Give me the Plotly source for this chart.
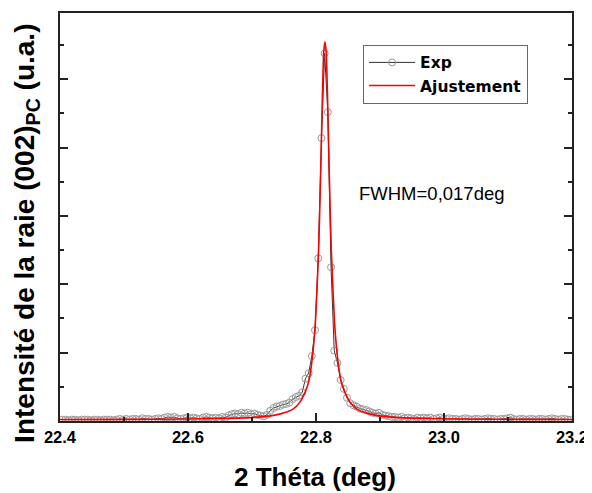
import numpy as np
import plotly.graph_objects as go

# Experimental scan: start angle, step, intensities (arbitrary units)
x_start = 22.4035
x_step = 0.005
exp_y = [
    0.02, 0.02, 0.01, 0.02, 0.02, 0.01, 0.02, 0.02, 0.02, 0.01,
    0.02, 0.02, 0.01, 0.02, 0.02, 0.02, 0.01, 0.02, 0.03, 0.02,
    0.03, 0.02, 0.03, 0.03, 0.02, 0.04, 0.03, 0.03, 0.02, 0.03,
    0.04, 0.03, 0.05, 0.06, 0.05, 0.06, 0.04, 0.03, 0.04, 0.05,
    0.04, 0.05, 0.04, 0.03, 0.05, 0.06, 0.05, 0.04, 0.05, 0.04,
    0.06, 0.05, 0.08, 0.10, 0.11, 0.10, 0.12, 0.11, 0.12, 0.10,
    0.11, 0.09, 0.08, 0.07, 0.09, 0.15, 0.19, 0.21, 0.22, 0.24,
    0.25, 0.27, 0.32, 0.35, 0.37, 0.42, 0.62, 0.70, 0.95, 1.33,
    2.38, 4.14, 5.38, 4.52, 2.25, 1.03, 0.85, 0.60, 0.47, 0.34,
    0.26, 0.23, 0.21, 0.18, 0.17, 0.16, 0.14, 0.12, 0.11, 0.12,
    0.09, 0.08, 0.07, 0.06, 0.06, 0.05, 0.06, 0.04, 0.05, 0.04,
    0.03, 0.05, 0.04, 0.05, 0.04, 0.05, 0.03, 0.04, 0.05, 0.03,
    0.03, 0.04, 0.03, 0.03, 0.02, 0.03, 0.04, 0.03, 0.02, 0.03,
    0.03, 0.02, 0.03, 0.04, 0.03, 0.03, 0.02, 0.03, 0.03, 0.04,
    0.05, 0.03, 0.02, 0.03, 0.03, 0.02, 0.03, 0.03, 0.02, 0.03,
    0.03, 0.02, 0.03, 0.04, 0.03, 0.02, 0.03, 0.03, 0.02, 0.02,
]
exp_x = [x_start + x_step * i for i in range(len(exp_y))]

# Fit curve
fit_x = [22.400, 22.500, 22.600, 22.654, 22.704, 22.734, 22.754, 22.764, 22.774,
         22.784, 22.789, 22.794, 22.799, 22.804, 22.807, 22.810, 22.812, 22.814,
         22.816, 22.818, 22.821, 22.824, 22.829, 22.834, 22.839, 22.844, 22.854,
         22.864, 22.874, 22.894, 22.924, 22.974, 23.024, 23.124, 23.200]
fit_y = [0.022, 0.024, 0.029, 0.036, 0.053, 0.082, 0.131, 0.175, 0.265,
         0.444, 0.593, 0.903, 1.434, 2.479, 3.509, 4.748, 5.383, 5.550,
         5.383, 4.748, 3.509, 2.479, 1.434, 0.903, 0.593, 0.444, 0.265,
         0.175, 0.131, 0.082, 0.053, 0.036, 0.029, 0.024, 0.023]

x_ticks = [22.4, 22.6, 22.8, 23.0, 23.2]
x_tick_text = ["22.4", "22.6", "22.8", "23.0", "23.2"]

FONT = "Liberation Sans, Arial, sans-serif"
LEG_FONT = "DejaVu Sans, Liberation Sans, sans-serif"

fig = go.Figure()
fig.add_trace(go.Scatter(
    x=exp_x, y=exp_y, mode="lines+markers", name="<b>Exp</b>",
    line=dict(color="#333333", width=1),
    marker=dict(symbol="circle-open", size=7, color="#999999", line=dict(width=1, color="#999999")),
))
fig.add_trace(go.Scatter(
    x=fit_x, y=fit_y, mode="lines", name="<b>Ajustement</b>",
    line=dict(color="#ff0000", width=1.6, shape="spline", smoothing=0.5),
))

# The page body adds an 8 px offset, so the figure is 8 px smaller and shifted
fig.update_layout(
    width=584, height=485,
    margin=dict(l=52, r=20, t=3, b=72),
    paper_bgcolor="white", plot_bgcolor="white",
    font=dict(family=FONT, color="black"),
    showlegend=True,
    legend=dict(
        x=0.592, y=0.922, xanchor="left", yanchor="top",
        bgcolor="white", bordercolor="#666666", borderwidth=1,
        font=dict(size=15.5, family=LEG_FONT, color="black"),
        itemwidth=46,
    ),
)
fig.update_xaxes(
    range=[22.4, 23.2], tickvals=x_ticks, ticktext=x_tick_text,
    ticks="inside", ticklen=8, tickwidth=1.5, tickcolor="#222",
    showline=True, linecolor="#222", linewidth=1.5, mirror=True,
    showgrid=False, zeroline=False,
    tickfont=dict(size=16.5, family=FONT, color="black", weight="bold"),
    minor=dict(dtick=0.1, tick0=22.4, ticks="inside", ticklen=4, tickcolor="#222", tickwidth=1.5),
)
fig.update_yaxes(
    range=[0, 5.97], dtick=1, tick0=0, showticklabels=False,
    ticks="inside", ticklen=8, tickwidth=1.5, tickcolor="#222",
    showline=True, linecolor="#222", linewidth=1.5, mirror="ticks",
    showgrid=False, zeroline=False,
    minor=dict(dtick=0.5, tick0=0, ticks="inside", ticklen=4, tickcolor="#222", tickwidth=1.5),
)

fig.add_annotation(
    x=-0.0645, y=0.461, xref="paper", yref="paper", textangle=-90,
    text="<b>Intensité de la raie (002)<sub>PC</sub> (u.a.)</b>", showarrow=False,
    font=dict(size=28, family=FONT, color="black"), xanchor="center", yanchor="middle",
)
fig.add_annotation(
    x=0.499, y=-0.137, xref="paper", yref="paper",
    text="<b>2 Théta (deg)</b>", showarrow=False,
    font=dict(size=26, family=FONT, color="black"), xanchor="center", yanchor="middle",
)
fig.add_annotation(
    x=(357 - 60) / 512, y=(421 - 192) / 410, xref="paper", yref="paper",
    text="FWHM=0,017deg", showarrow=False,
    font=dict(size=18.5, family=FONT, color="black"), xanchor="left", yanchor="middle",
)

fig.write_html("out.html")
